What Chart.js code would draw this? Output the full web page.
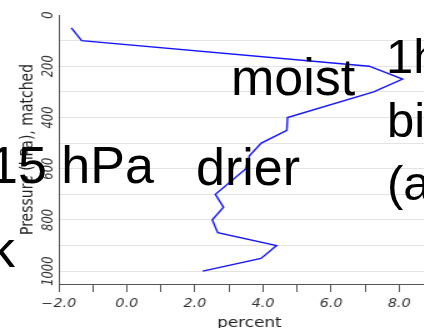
<!DOCTYPE html>
<html>
<head>
<meta charset="utf-8">
<script src="https://cdn.jsdelivr.net/npm/chart.js@4.4.1/dist/chart.umd.min.js"></script>
<style>
  html, body { margin: 0; padding: 0; background: #fff; overflow: hidden; }
  #wrap { position: relative; width: 424px; height: 328px; overflow: hidden; }
  #chart { position: absolute; left: 0; top: 0; }
  #notes { position: absolute; left: 0; top: 0; width: 424px; height: 328px; overflow: visible; }
  #notes text { font-family: "Liberation Sans", Arial, sans-serif; fill: #000; }
</style>
</head>
<body>
<div id="wrap">
  <!-- the source plot is stretched sideways, so the canvas is widened by its style -->
  <canvas id="chart" width="352" height="334" style="width:440px;height:334px"></canvas>
  <svg id="notes" width="424" height="328">
    <text x="-11" y="183" font-size="52">15 hPa</text>
    <text x="-11" y="267" font-size="52">k</text>
    <text x="231" y="95" font-size="52">moist</text>
    <text x="196" y="185" font-size="52">drier</text>
    <text x="386" y="73" font-size="49">1h</text>
    <text x="387" y="137" font-size="49">bi</text>
    <text x="387" y="200" font-size="49">(a</text>
  </svg>
</div>
<script>
document.addEventListener('DOMContentLoaded', () => {
  // pressure levels (hPa) and the matched moisture difference (percent)
  const pressureLevels = [50, 100, 200, 250, 300, 400, 450, 500, 550, 600, 700, 750, 800, 850, 900, 950, 1000];
  const percentDiff = [-1.63, -1.33, 7.12, 8.10, 7.25, 4.72, 4.70, 3.95, 3.60, 3.50, 2.60, 2.84, 2.51, 2.67, 4.40, 3.94, 2.23];

  const xLabelStep = 2;
  const yLabelStep = 200;

  const points = pressureLevels.map((p, i) => ({ x: percentDiff[i], y: p }));
  const axisColor = '#555';
  const ctx = document.getElementById('chart').getContext('2d');

  new Chart(ctx, {
    type: 'line',
    data: {
      datasets: [{
        data: points,
        borderColor: '#1414ff',
        borderWidth: 1.4,
        pointRadius: 0,
        tension: 0,
        fill: false
      }]
    },
    options: {
      responsive: false,
      animation: false,
      devicePixelRatio: 1,
      layout: { padding: { top: 15, right: 0, bottom: 0, left: 0 } },
      plugins: { legend: { display: false }, tooltip: { enabled: false } },
      scales: {
        x: {
          type: 'linear',
          min: -2,
          max: 9.2,
          afterFit: (scale) => { scale.height = 50; },
          border: { display: true, color: axisColor },
          grid: { drawOnChartArea: false, drawTicks: true, tickLength: 8, color: axisColor },
          ticks: {
            stepSize: 1,
            includeBounds: false,
            autoSkip: false,
            maxRotation: 0,
            padding: 5,
            color: '#333',
            font: { family: 'DejaVu Sans', size: 11.5, style: 'italic' },
            callback: (v) => (Math.round(v) % xLabelStep === 0 ? v.toFixed(1).replace('-', '\u2212') : '')
          },
          title: {
            display: true,
            text: 'percent',
            color: '#222',
            font: { family: 'DejaVu Sans', size: 13.5 },
            padding: { top: 0, bottom: 2 }
          }
        },
        y: {
          type: 'linear',
          reverse: true,
          min: 0,
          max: 1050,
          afterFit: (scale) => { scale.width = 47; },
          border: { display: true, color: axisColor },
          grid: {
            drawTicks: false,
            color: (c) => (c.tick && c.tick.value === 0 ? 'rgba(0,0,0,0)' : '#e3e3e3')
          },
          ticks: {
            stepSize: 100,
            includeBounds: false,
            autoSkip: false,
            minRotation: 90,
            maxRotation: 90,
            crossAlign: 'center',
            padding: -7,
            color: '#333',
            font: { family: 'DejaVu Sans', size: 11.5, style: 'italic' },
            callback: (v) => (v % yLabelStep === 0 ? String(v) : '')
          },
          title: {
            display: true,
            text: 'Pressure (hPa), matched',
            color: '#222',
            font: { family: 'DejaVu Sans', size: 14 },
            padding: { top: 14, bottom: 0 }
          }
        }
      }
    }
  });
});
</script>
</body>
</html>
